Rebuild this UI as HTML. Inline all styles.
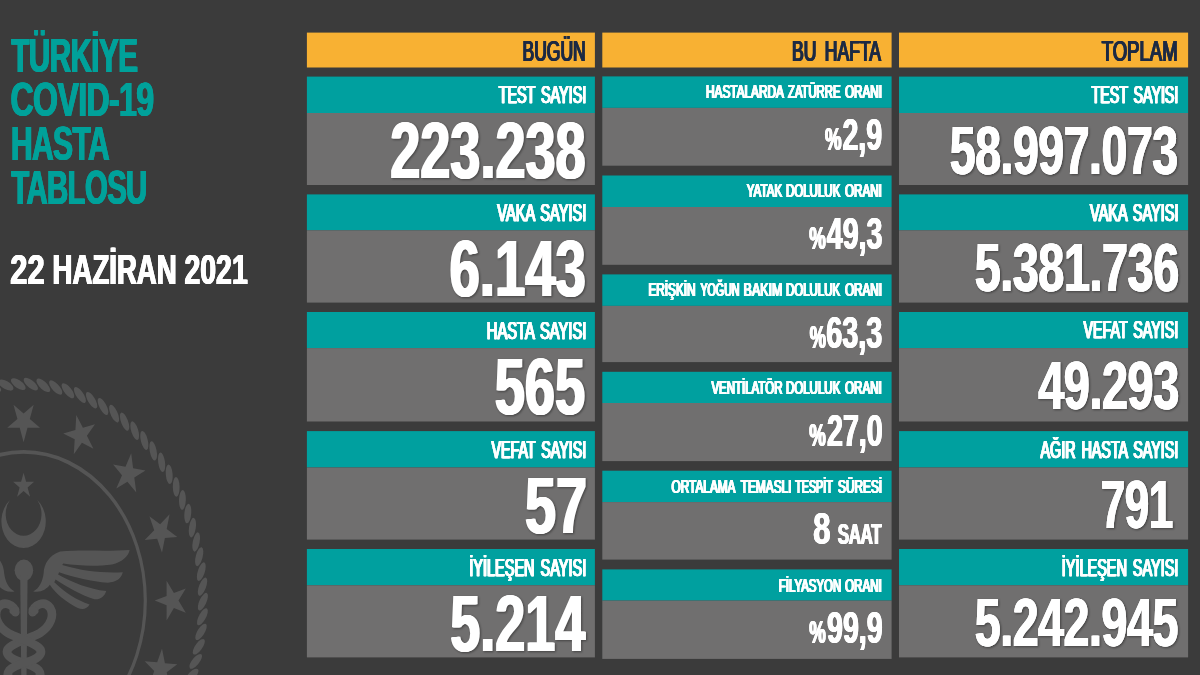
<!DOCTYPE html>
<html lang="tr"><head><meta charset="utf-8"><title>Türkiye COVID-19 Hasta Tablosu - 22 Haziran 2021</title>
<style>
html,body{margin:0;padding:0;background:#3b3b3b}
body{width:1200px;height:675px;overflow:hidden}
svg{display:block}
text{font-family:"Liberation Sans",sans-serif;font-weight:700;white-space:pre}
#ti0,#ti1,#ti2,#ti3{fill:#00a19a;letter-spacing:-0.02em;filter:drop-shadow(0.65px 0 0 #00a19a) drop-shadow(-0.65px 0 0 #00a19a)}
#da0,#da1,#da2{fill:#fff;filter:drop-shadow(0.5px 0 0 #fff) drop-shadow(-0.5px 0 0 #fff)}
#h0,#h1a,#h1b,#h2{fill:#1d2a44;font-weight:400;stroke:#1d2a44;stroke-width:0.2px;stroke-linejoin:round;filter:drop-shadow(0.5px 0 0 #1d2a44) drop-shadow(-0.5px 0 0 #1d2a44)}
#ll0,#ll1,#ll2,#ll3,#ll4,#rl0,#rl1,#rl2,#rl3,#rl4{fill:#fff;font-weight:400;stroke:#fff;stroke-width:0.25px;stroke-linejoin:round;word-spacing:0.13em;filter:drop-shadow(0.35px 0 0 #fff) drop-shadow(-0.35px 0 0 #fff)}
#lv0,#lv1,#lv2,#lv3,#lv4{fill:#fff;filter:drop-shadow(1px 0 0 #fff) drop-shadow(-1px 0 0 #fff) drop-shadow(1px 1px 0.8px rgba(0,0,0,.4))}
#rv0,#rv1,#rv2,#rv3,#rv4{fill:#fff;letter-spacing:-0.01em;filter:drop-shadow(0.9px 0 0 #fff) drop-shadow(-0.9px 0 0 #fff) drop-shadow(1px 1px 0.8px rgba(0,0,0,.4))}
#ml0_0,#ml0_1,#ml0_2,#ml1_0,#ml1_1,#ml1_2,#ml2_0,#ml2_1,#ml2_2,#ml2_3,#ml2_4,#ml3_0,#ml3_1,#ml3_2,#ml4_0,#ml4_1,#ml4_2,#ml4_3,#ml5_0,#ml5_1{fill:#fff;font-weight:400;stroke:#fff;stroke-width:0.15px;stroke-linejoin:round;filter:drop-shadow(0.22px 0 0 #fff) drop-shadow(-0.22px 0 0 #fff)}
#mp0,#mv0,#mp1,#mv1,#mp2,#mv2,#mp3,#mv3,#mp5,#mv5,#mv4a{fill:#fff;filter:drop-shadow(0.7px 0 0 #fff) drop-shadow(-0.7px 0 0 #fff) drop-shadow(0.9px 0.9px 0.7px rgba(0,0,0,.42))}
#mv4b{fill:#fff;letter-spacing:-0.02em;filter:drop-shadow(0.8px 0 0 #fff) drop-shadow(-0.8px 0 0 #fff) drop-shadow(0.9px 0.9px 0.7px rgba(0,0,0,.42))}
</style></head>
<body>
<svg width="1200" height="675" viewBox="0 0 1200 675">
<rect x="0" y="0" width="1200" height="675" fill="#3b3b3b"/>
<g id="emblem" fill="#555555">
<g transform="translate(23.6,600.6) scale(1,1.208)">
<g id="rope">
<ellipse cx="7.2" cy="-179.2" rx="8.2" ry="3.4" transform="rotate(32.3 7.2 -179.2)"/>
<ellipse cx="19.7" cy="-178.2" rx="8.2" ry="3.4" transform="rotate(36.3 19.7 -178.2)"/>
<ellipse cx="32.1" cy="-176.4" rx="8.2" ry="3.4" transform="rotate(40.3 32.1 -176.4)"/>
<ellipse cx="44.3" cy="-173.7" rx="8.2" ry="3.4" transform="rotate(44.3 44.3 -173.7)"/>
<ellipse cx="56.3" cy="-170.2" rx="8.2" ry="3.4" transform="rotate(48.3 56.3 -170.2)"/>
<ellipse cx="68" cy="-165.9" rx="8.2" ry="3.4" transform="rotate(52.3 68 -165.9)"/>
<ellipse cx="79.4" cy="-160.7" rx="8.2" ry="3.4" transform="rotate(56.3 79.4 -160.7)"/>
<ellipse cx="90.5" cy="-154.8" rx="8.2" ry="3.4" transform="rotate(60.3 90.5 -154.8)"/>
<ellipse cx="101" cy="-148.1" rx="8.2" ry="3.4" transform="rotate(64.3 101 -148.1)"/>
<ellipse cx="111.1" cy="-140.7" rx="8.2" ry="3.4" transform="rotate(68.3 111.1 -140.7)"/>
<ellipse cx="120.7" cy="-132.6" rx="8.2" ry="3.4" transform="rotate(72.3 120.7 -132.6)"/>
<ellipse cx="129.6" cy="-123.9" rx="8.2" ry="3.4" transform="rotate(76.3 129.6 -123.9)"/>
<ellipse cx="138" cy="-114.5" rx="8.2" ry="3.4" transform="rotate(80.3 138 -114.5)"/>
<ellipse cx="145.6" cy="-104.6" rx="8.2" ry="3.4" transform="rotate(84.3 145.6 -104.6)"/>
<ellipse cx="152.6" cy="-94.2" rx="8.2" ry="3.4" transform="rotate(88.3 152.6 -94.2)"/>
<ellipse cx="158.8" cy="-83.3" rx="8.2" ry="3.4" transform="rotate(92.3 158.8 -83.3)"/>
<ellipse cx="164.2" cy="-72.1" rx="8.2" ry="3.4" transform="rotate(96.3 164.2 -72.1)"/>
<ellipse cx="168.8" cy="-60.4" rx="8.2" ry="3.4" transform="rotate(100.3 168.8 -60.4)"/>
<ellipse cx="172.6" cy="-48.5" rx="8.2" ry="3.4" transform="rotate(104.3 172.6 -48.5)"/>
<ellipse cx="175.6" cy="-36.4" rx="8.2" ry="3.4" transform="rotate(108.3 175.6 -36.4)"/>
<ellipse cx="177.7" cy="-24" rx="8.2" ry="3.4" transform="rotate(112.3 177.7 -24)"/>
<ellipse cx="178.9" cy="-11.6" rx="8.2" ry="3.4" transform="rotate(116.3 178.9 -11.6)"/>
<ellipse cx="179.3" cy="0.9" rx="8.2" ry="3.4" transform="rotate(120.3 179.3 0.9)"/>
<ellipse cx="178.8" cy="13.4" rx="8.2" ry="3.4" transform="rotate(124.3 178.8 13.4)"/>
<ellipse cx="177.4" cy="25.9" rx="8.2" ry="3.4" transform="rotate(128.3 177.4 25.9)"/>
<ellipse cx="175.2" cy="38.2" rx="8.2" ry="3.4" transform="rotate(132.3 175.2 38.2)"/>
<ellipse cx="172.1" cy="50.3" rx="8.2" ry="3.4" transform="rotate(136.3 172.1 50.3)"/>
<ellipse cx="168.2" cy="62.2" rx="8.2" ry="3.4" transform="rotate(140.3 168.2 62.2)"/>
<ellipse cx="163.4" cy="73.8" rx="8.2" ry="3.4" transform="rotate(144.3 163.4 73.8)"/>
<ellipse cx="-30.2" cy="-176.7" rx="8.2" ry="3.4" transform="rotate(380.3 -30.2 -176.7)"/>
<ellipse cx="-17.8" cy="-178.4" rx="8.2" ry="3.4" transform="rotate(384.3 -17.8 -178.4)"/>
<ellipse cx="-5.3" cy="-179.2" rx="8.2" ry="3.4" transform="rotate(388.3 -5.3 -179.2)"/>
</g>
<g id="stars">
<polygon points="0,-131.1 -3.9,-143 -16.4,-143 -6.2,-150.3 -10.1,-162.2 -0,-154.9 10.1,-162.2 6.2,-150.3 16.4,-143 3.9,-143"/>
<polygon points="50.2,-121.1 51.1,-133.6 39.6,-138.4 51.8,-141.3 52.7,-153.7 59.3,-143.1 71.4,-146 63.3,-136.5 69.8,-125.8 58.3,-130.6"/>
<polygon points="92.7,-92.7 98.4,-103.8 89.5,-112.7 101.9,-110.7 107.6,-121.9 109.5,-109.5 121.9,-107.6 110.7,-101.9 112.7,-89.5 103.8,-98.4"/>
<polygon points="121.1,-50.2 130.6,-58.3 125.8,-69.8 136.5,-63.3 146,-71.4 143.1,-59.3 153.7,-52.7 141.3,-51.8 138.4,-39.6 133.6,-51.1"/>
<polygon points="131.1,-0 143,-3.9 143,-16.4 150.3,-6.2 162.2,-10.1 154.9,-0 162.2,10.1 150.3,6.2 143,16.4 143,3.9"/>
<polygon points="121.1,50.2 133.6,51.1 138.4,39.6 141.3,51.8 153.7,52.7 143.1,59.3 146,71.4 136.5,63.3 125.8,69.8 130.6,58.3"/>
</g>
<ellipse cx="0" cy="0" rx="121.7" ry="123.1" fill="none" stroke="#555555" stroke-width="3.2"/>
<polygon points="0,-105.9 2.5,-98.3 10.5,-98.3 4,-93.6 6.5,-86 0,-90.7 -6.5,-86 -4,-93.6 -10.5,-98.3 -2.5,-98.3"/>
<path d="M -13.6,-83.2 A 22.2,22.2 0 1 0 13.6,-83.2 A 17.9,17.9 0 1 1 -13.6,-83.2 Z"/>
</g>
<g id="caduceus">
<ellipse cx="23.9" cy="570.3" rx="9.3" ry="10.8"/>
<path d="M 20.2,575 L 27.6,575 L 26.4,690 L 21.4,690 Z"/>
<path d="M 33.2,591.4 C 39.4,587.9 42.5,581.7 43.6,573.4 C 44.2,564 48.7,555.7 60.1,551.6 C 78.8,549.5 107.9,551.6 129.6,549.9 C 128.6,555.7 122.4,562 112,564.5 C 97.5,566.5 78.8,566.1 63.3,563.6 L 62.2,565.1 C 83,571.3 103.7,573.4 122.8,572.3 C 121.3,578.6 116.1,582.3 107.9,582.7 C 91.3,581.7 74.7,577.5 59.1,572.3 L 58.1,574.4 C 72.6,582.7 89.2,588.9 106.2,591 C 104.7,596.2 100.6,599.7 94.4,599.3 C 80.9,595.1 66.4,586.9 55.6,579.6 L 54.3,582.3 C 64.3,592 76.7,600.3 89.6,604.5 C 87.1,608.6 83,610.1 77.8,608 C 66.4,602.4 56,594.1 49.8,584.8 C 46.7,589.3 40.4,593.1 33.2,591.4 Z"/>
<path d="M 14.6,591.4 C 8.4,587.9 5.3,581.7 4.2,573.4 C 3.6,564 -0.9,555.7 -12.3,551.6 C -31,549.5 -60.1,551.6 -81.8,549.9 C -80.8,555.7 -74.6,562 -64.2,564.5 C -49.7,566.5 -31,566.1 -15.5,563.6 L -14.4,565.1 C -35.2,571.3 -55.9,573.4 -75,572.3 C -73.5,578.6 -68.3,582.3 -60.1,582.7 C -43.5,581.7 -26.9,577.5 -11.3,572.3 L -10.3,574.4 C -24.8,582.7 -41.4,588.9 -58.4,591 C -56.9,596.2 -52.8,599.7 -46.6,599.3 C -33.1,595.1 -18.6,586.9 -7.8,579.6 L -6.5,582.3 C -16.5,592 -28.9,600.3 -41.8,604.5 C -39.3,608.6 -35.2,610.1 -30,608 C -18.6,602.4 -8.2,594.1 -2,584.8 C 1.1,589.3 7.4,593.1 14.6,591.4 Z"/>
<path d="M 32.7,612.3 C 34,605 44,599.7 50,607.7 C 54.7,615 50.7,626.3 40,633 C 32,637.7 17.3,641 10,647 C 4,651.7 8,657 14.7,659.7 C 22.7,663 33.3,665 38.7,670.3 C 41.3,673.7 40,677 37.3,679.7" fill="none" stroke="#555555" stroke-width="8.6" stroke-linecap="round"/>
<path d="M 15.3,612.3 C 14,605 4,599.7 -2,607.7 C -6.7,615 -2.7,626.3 8,633 C 16,637.7 30.7,641 38,647 C 44,651.7 40,657 33.3,659.7 C 25.3,663 14.7,665 9.3,670.3 C 6.7,673.7 8,677 10.7,679.7" fill="none" stroke="#555555" stroke-width="8.6" stroke-linecap="round"/>
<ellipse cx="33.6" cy="610.4" rx="5.2" ry="4" transform="rotate(25 33.6 610.4)"/>
<ellipse cx="14.4" cy="610.4" rx="5.2" ry="4" transform="rotate(-25 14.4 610.4)"/>
</g>
</g>
<g id="panels">
<rect x="306.9" y="32.6" width="288" height="34.9" fill="#f8b133"/>
<rect x="602.3" y="32.6" width="289.3" height="34.9" fill="#f8b133"/>
<rect x="899" y="32.6" width="289.1" height="34.9" fill="#f8b133"/>
<rect x="306.9" y="76.6" width="288" height="36.4" fill="#00a09f"/>
<rect x="306.9" y="113" width="288" height="72" fill="#706f6f"/>
<rect x="306.9" y="194.4" width="288" height="35.9" fill="#00a09f"/>
<rect x="306.9" y="230.3" width="288" height="72.3" fill="#706f6f"/>
<rect x="306.9" y="312" width="288" height="36.1" fill="#00a09f"/>
<rect x="306.9" y="348.1" width="288" height="73.4" fill="#706f6f"/>
<rect x="306.9" y="431.1" width="288" height="36.4" fill="#00a09f"/>
<rect x="306.9" y="467.5" width="288" height="72.1" fill="#706f6f"/>
<rect x="306.9" y="549" width="288" height="36.3" fill="#00a09f"/>
<rect x="306.9" y="585.3" width="288" height="72.1" fill="#706f6f"/>
<rect x="602.3" y="76.4" width="289.3" height="31.5" fill="#00a09f"/>
<rect x="602.3" y="107.9" width="289.3" height="57.8" fill="#706f6f"/>
<rect x="602.3" y="175.5" width="289.3" height="31.5" fill="#00a09f"/>
<rect x="602.3" y="207" width="289.3" height="57.8" fill="#706f6f"/>
<rect x="602.3" y="274.4" width="289.3" height="31.5" fill="#00a09f"/>
<rect x="602.3" y="305.9" width="289.3" height="56.2" fill="#706f6f"/>
<rect x="602.3" y="371.8" width="289.3" height="31.2" fill="#00a09f"/>
<rect x="602.3" y="403" width="289.3" height="58.1" fill="#706f6f"/>
<rect x="602.3" y="470.7" width="289.3" height="31.4" fill="#00a09f"/>
<rect x="602.3" y="502.1" width="289.3" height="57.5" fill="#706f6f"/>
<rect x="602.3" y="569.4" width="289.3" height="31.2" fill="#00a09f"/>
<rect x="602.3" y="600.6" width="289.3" height="58.3" fill="#706f6f"/>
<rect x="899" y="76.6" width="289.1" height="36.4" fill="#00a09f"/>
<rect x="899" y="113" width="289.1" height="72" fill="#706f6f"/>
<rect x="899" y="194.4" width="289.1" height="35.9" fill="#00a09f"/>
<rect x="899" y="230.3" width="289.1" height="72.3" fill="#706f6f"/>
<rect x="899" y="312" width="289.1" height="36.1" fill="#00a09f"/>
<rect x="899" y="348.1" width="289.1" height="73.4" fill="#706f6f"/>
<rect x="899" y="431.1" width="289.1" height="36.4" fill="#00a09f"/>
<rect x="899" y="467.5" width="289.1" height="72.1" fill="#706f6f"/>
<rect x="899" y="549" width="289.1" height="36.3" fill="#00a09f"/>
<rect x="899" y="585.3" width="289.1" height="72.1" fill="#706f6f"/>
</g>
<g id="texts">
<text id="ti0" class="title" x="11.84" y="71.6" font-size="47.67" textLength="126.03" lengthAdjust="spacingAndGlyphs">TÜRKİYE</text>
<text id="ti1" class="title" x="11.11" y="115.6" font-size="47.67" textLength="142.74" lengthAdjust="spacingAndGlyphs">COVID-19</text>
<text id="ti2" class="title" x="11.44" y="159.7" font-size="47.67" textLength="98.05" lengthAdjust="spacingAndGlyphs">HASTA</text>
<text id="ti3" class="title" x="11.83" y="203.7" font-size="47.67" textLength="135.35" lengthAdjust="spacingAndGlyphs">TABLOSU</text>
<text id="da0" class="date" x="10.85" y="283.9" font-size="42.59" textLength="34.21" lengthAdjust="spacingAndGlyphs">22</text>
<text id="da1" class="date" x="53.04" y="283.9" font-size="42.59" textLength="124.14" lengthAdjust="spacingAndGlyphs">HAZİRAN</text>
<text id="da2" class="date" x="185.12" y="283.9" font-size="42.59" textLength="63.03" lengthAdjust="spacingAndGlyphs">2021</text>
<text id="h0" class="hdr" x="523.04" y="60.6" font-size="28.92" textLength="63.08" lengthAdjust="spacingAndGlyphs">BUGÜN</text>
<text id="h1a" class="hdr" x="792.61" y="60.6" font-size="28.92" textLength="24.39" lengthAdjust="spacingAndGlyphs">BU</text>
<text id="h1b" class="hdr" x="825.37" y="60.6" font-size="28.92" textLength="56.2" lengthAdjust="spacingAndGlyphs">HAFTA</text>
<text id="h2" class="hdr" x="1102.19" y="60.6" font-size="28.92" textLength="75.93" lengthAdjust="spacingAndGlyphs">TOPLAM</text>
<text id="ll0" class="lab" x="499.18" y="102.88" font-size="23.76" textLength="87.59" lengthAdjust="spacingAndGlyphs">TEST SAYISI</text>
<text id="ll1" class="lab" x="497.74" y="220.57" font-size="23.76" textLength="89.03" lengthAdjust="spacingAndGlyphs">VAKA SAYISI</text>
<text id="ll2" class="lab" x="487.26" y="338.58" font-size="23.76" textLength="99.53" lengthAdjust="spacingAndGlyphs">HASTA SAYISI</text>
<text id="ll3" class="lab" x="491.89" y="457.98" font-size="23.76" textLength="94.83" lengthAdjust="spacingAndGlyphs">VEFAT SAYISI</text>
<text id="ll4" class="lab" x="469.72" y="575.68" font-size="23.76" textLength="117.03" lengthAdjust="spacingAndGlyphs">İYİLEŞEN SAYISI</text>
<text id="lv0" class="lval" x="390.13" y="178.2" font-size="80.09" textLength="195.55" lengthAdjust="spacingAndGlyphs">223.238</text>
<text id="lv1" class="lval" x="449.38" y="295.8" font-size="80.09" textLength="136.61" lengthAdjust="spacingAndGlyphs">6.143</text>
<text id="lv2" class="lval" x="494.7" y="413.6" font-size="80.09" textLength="90.5" lengthAdjust="spacingAndGlyphs">565</text>
<text id="lv3" class="lval" x="524.94" y="532.7" font-size="80.09" textLength="62.14" lengthAdjust="spacingAndGlyphs">57</text>
<text id="lv4" class="lval" x="450.32" y="651.2" font-size="80.09" textLength="135.09" lengthAdjust="spacingAndGlyphs">5.214</text>
<text id="rl0" class="lab" x="1092.04" y="102.97" font-size="23.76" textLength="86.8" lengthAdjust="spacingAndGlyphs">TEST SAYISI</text>
<text id="rl1" class="lab" x="1090.6" y="220.57" font-size="23.76" textLength="88.31" lengthAdjust="spacingAndGlyphs">VAKA SAYISI</text>
<text id="rl2" class="lab" x="1084" y="338.38" font-size="23.76" textLength="94.8" lengthAdjust="spacingAndGlyphs">VEFAT SAYISI</text>
<text id="rl3" class="lab" x="1041.07" y="457.58" font-size="23.76" textLength="137.77" lengthAdjust="spacingAndGlyphs">AĞIR HASTA SAYISI</text>
<text id="rl4" class="lab" x="1062.31" y="575.58" font-size="23.76" textLength="116.6" lengthAdjust="spacingAndGlyphs">İYİLEŞEN SAYISI</text>
<text id="rv0" class="rval" x="950.26" y="174.4" font-size="69.19" textLength="227.95" lengthAdjust="spacingAndGlyphs">58.997.073</text>
<text id="rv1" class="rval" x="975.17" y="291.3" font-size="69.19" textLength="204.05" lengthAdjust="spacingAndGlyphs">5.381.736</text>
<text id="rv2" class="rval" x="1038.71" y="408.9" font-size="69.19" textLength="140.52" lengthAdjust="spacingAndGlyphs">49.293</text>
<text id="rv3" class="rval" x="1101.13" y="527.9" font-size="69.19" textLength="72.04" lengthAdjust="spacingAndGlyphs">791</text>
<text id="rv4" class="rval" x="975.19" y="645.9" font-size="69.19" textLength="203.17" lengthAdjust="spacingAndGlyphs">5.242.945</text>
<text id="ml0_0" class="mlab" x="706.49" y="98.42" font-size="19.11" textLength="77.99" lengthAdjust="spacingAndGlyphs">HASTALARDA</text>
<text id="ml0_1" class="mlab" x="788.5" y="98.42" font-size="19.11" textLength="52.43" lengthAdjust="spacingAndGlyphs">ZATÜRRE</text>
<text id="ml0_2" class="mlab" x="845.46" y="98.42" font-size="19.11" textLength="36.99" lengthAdjust="spacingAndGlyphs">ORANI</text>
<text id="ml1_0" class="mlab" x="747.19" y="197.23" font-size="19.11" textLength="35.42" lengthAdjust="spacingAndGlyphs">YATAK</text>
<text id="ml1_1" class="mlab" x="786.41" y="197.23" font-size="19.11" textLength="54.45" lengthAdjust="spacingAndGlyphs">DOLULUK</text>
<text id="ml1_2" class="mlab" x="845.5" y="197.23" font-size="19.11" textLength="36.86" lengthAdjust="spacingAndGlyphs">ORANI</text>
<text id="ml2_0" class="mlab" x="648.92" y="296.23" font-size="19.11" textLength="47.23" lengthAdjust="spacingAndGlyphs">ERİŞKİN</text>
<text id="ml2_1" class="mlab" x="701.01" y="296.23" font-size="19.11" textLength="38.98" lengthAdjust="spacingAndGlyphs">YOĞUN</text>
<text id="ml2_2" class="mlab" x="744.06" y="296.23" font-size="19.11" textLength="38.85" lengthAdjust="spacingAndGlyphs">BAKIM</text>
<text id="ml2_3" class="mlab" x="786.48" y="296.23" font-size="19.11" textLength="54.22" lengthAdjust="spacingAndGlyphs">DOLULUK</text>
<text id="ml2_4" class="mlab" x="845.41" y="296.23" font-size="19.11" textLength="37.09" lengthAdjust="spacingAndGlyphs">ORANI</text>
<text id="ml3_0" class="mlab" x="711.9" y="393.53" font-size="19.11" textLength="71.1" lengthAdjust="spacingAndGlyphs">VENTİLATÖR</text>
<text id="ml3_1" class="mlab" x="786.41" y="393.53" font-size="19.11" textLength="54.45" lengthAdjust="spacingAndGlyphs">DOLULUK</text>
<text id="ml3_2" class="mlab" x="845.5" y="393.53" font-size="19.11" textLength="36.86" lengthAdjust="spacingAndGlyphs">ORANI</text>
<text id="ml4_0" class="mlab" x="672.1" y="492.62" font-size="19.11" textLength="63.9" lengthAdjust="spacingAndGlyphs">ORTALAMA</text>
<text id="ml4_1" class="mlab" x="741.17" y="492.62" font-size="19.11" textLength="50.86" lengthAdjust="spacingAndGlyphs">TEMASLI</text>
<text id="ml4_2" class="mlab" x="795.82" y="492.62" font-size="19.11" textLength="37.37" lengthAdjust="spacingAndGlyphs">TESPİT</text>
<text id="ml4_3" class="mlab" x="838.51" y="492.62" font-size="19.11" textLength="44.08" lengthAdjust="spacingAndGlyphs">SÜRESİ</text>
<text id="ml5_0" class="mlab" x="779.3" y="591.52" font-size="19.11" textLength="62.4" lengthAdjust="spacingAndGlyphs">FİLYASYON</text>
<text id="ml5_1" class="mlab" x="845.5" y="591.52" font-size="19.11" textLength="36.86" lengthAdjust="spacingAndGlyphs">ORANI</text>
<text id="mp0" class="mval" x="825.57" y="150.2" font-size="31.53" textLength="16.54" lengthAdjust="spacingAndGlyphs">%</text>
<text id="mv0" class="mval" x="843.03" y="150.2" font-size="44.04" textLength="39.62" lengthAdjust="spacingAndGlyphs">2,9</text>
<text id="mp1" class="mval" x="809.79" y="249" font-size="31.53" textLength="16.52" lengthAdjust="spacingAndGlyphs">%</text>
<text id="mv1" class="mval" x="827.26" y="249" font-size="44.04" textLength="55.77" lengthAdjust="spacingAndGlyphs">49,3</text>
<text id="mp2" class="mval" x="810.28" y="348.4" font-size="31.53" textLength="16.18" lengthAdjust="spacingAndGlyphs">%</text>
<text id="mv2" class="mval" x="826.81" y="348.4" font-size="44.04" textLength="56.04" lengthAdjust="spacingAndGlyphs">63,3</text>
<text id="mp3" class="mval" x="809.79" y="445.5" font-size="31.53" textLength="16.52" lengthAdjust="spacingAndGlyphs">%</text>
<text id="mv3" class="mval" x="827.55" y="445.5" font-size="44.04" textLength="55.62" lengthAdjust="spacingAndGlyphs">27,0</text>
<text id="mp5" class="mval" x="809.79" y="643" font-size="31.53" textLength="16.52" lengthAdjust="spacingAndGlyphs">%</text>
<text id="mv5" class="mval" x="827.52" y="643" font-size="44.04" textLength="55.52" lengthAdjust="spacingAndGlyphs">99,9</text>
<text id="mv4a" class="mval" x="813.72" y="543.5" font-size="44.04" textLength="17.23" lengthAdjust="spacingAndGlyphs">8</text>
<text id="mv4b" class="saat" x="838.15" y="543.6" font-size="29.94" textLength="43.68" lengthAdjust="spacingAndGlyphs">SAAT</text>
</g>
</svg>
</body></html>
